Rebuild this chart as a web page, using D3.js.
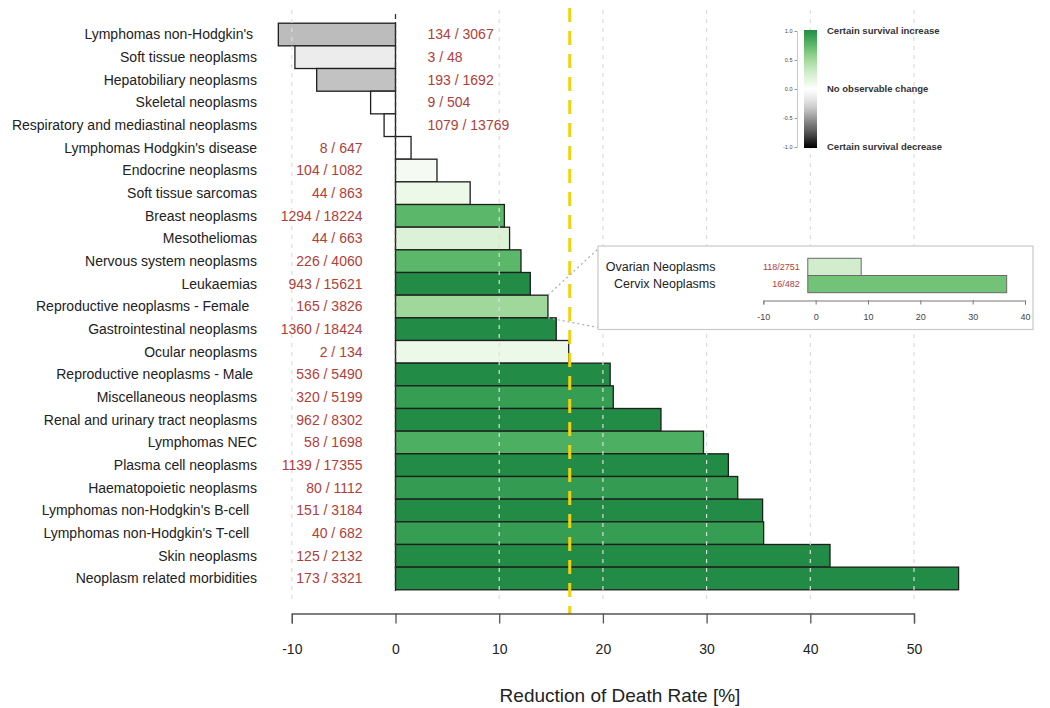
<!DOCTYPE html>
<html>
<head>
<meta charset="utf-8">
<script src="https://cdn.jsdelivr.net/npm/d3@7"></script>
<style>
  html, body { margin: 0; padding: 0; background: #fff; }
  svg { display: block; font-family: "Liberation Sans", Arial, Helvetica, sans-serif; }
</style>
</head>
<body>
<svg id="chart" width="1050" height="708"></svg>
<script>
// ---------- data ----------
const categories = [
  "Lymphomas non-Hodgkin's ",
  "Soft tissue neoplasms",
  "Hepatobiliary neoplasms",
  "Skeletal neoplasms",
  "Respiratory and mediastinal neoplasms",
  "Lymphomas Hodgkin's disease",
  "Endocrine neoplasms",
  "Soft tissue sarcomas",
  "Breast neoplasms",
  "Mesotheliomas",
  "Nervous system neoplasms",
  "Leukaemias",
  "Reproductive neoplasms - Female  ",
  "Gastrointestinal neoplasms",
  "Ocular neoplasms",
  "Reproductive neoplasms - Male ",
  "Miscellaneous neoplasms",
  "Renal and urinary tract neoplasms",
  "Lymphomas NEC",
  "Plasma cell neoplasms",
  "Haematopoietic neoplasms",
  "Lymphomas non-Hodgkin's B-cell  ",
  "Lymphomas non-Hodgkin's T-cell  ",
  "Skin neoplasms",
  "Neoplasm related morbidities"
];
const reduction = [-11.3, -9.7, -7.6, -2.4, -1.1, 1.5, 4.0, 7.2, 10.5, 11.0, 12.1, 13.0, 14.7, 15.5, 16.7,
                   20.7, 21.0, 25.6, 29.7, 32.1, 33.0, 35.4, 35.5, 41.9, 54.3];
// certainty of change: -1 certain decrease, 0 no change, +1 certain increase
const certainty = [-0.37, -0.14, -0.35, 0, 0, 0, 0.02, 0.1, 0.75, 0.21, 0.75, 1, 0.5, 1, 0.1,
                   1, 0.9, 1, 0.8, 1, 0.91, 1, 0.9, 1, 1];
const counts = ["134 / 3067", "3 / 48", "193 / 1692", "9 / 504", "1079 / 13769", "8 / 647", "104 / 1082",
                "44 / 863", "1294 / 18224", "44 / 663", "226 / 4060", "943 / 15621", "165 / 3826",
                "1360 / 18424", "2 / 134", "536 / 5490", "320 / 5199", "962 / 8302", "58 / 1698",
                "1139 / 17355", "80 / 1112", "151 / 3184", "40 / 682", "125 / 2132", "173 / 3321"];
const xTicks = [-10, 0, 10, 20, 30, 40, 50];
const meanReduction = 16.8;
const zoomedCategory = "Reproductive neoplasms - Female  ";

const insetCategories = ["Ovarian Neoplasms", "Cervix Neoplasms"];
const insetReduction = [8.7, 36.5];
const insetCertainty = [0.27, 0.67];
const insetCounts = ["118/2751", "16/482"];
const insetTicks = [-10, 0, 10, 20, 30, 40];
const insetBase = -1.5;

const legendTicks = [1.0, 0.5, 0.0, -0.5, -1.0];
const legendLabels = ["Certain survival increase", "No observable change", "Certain survival decrease"];
const legendLabelValues = [1, 0, -1];

// ---------- scales ----------
const svg = d3.select("#chart");
const color = c => c <= 0 ? d3.interpolateGreys(-c) : d3.interpolateGreens(c * 0.75);
const fmt = d => String(d);

const x = d3.scaleLinear().domain([-10, 50]).range([291.8, 914]);
const y = d3.scaleBand().domain(categories).range([23.2, 589.8]).padding(0);
const rows = categories.map((c, i) => ({cat: c, v: reduction[i], c: certainty[i], n: counts[i]}));

// ---------- bars ----------
svg.append("g").selectAll("rect").data(rows).join("rect")
  .attr("x", d => x(Math.min(0, d.v)))
  .attr("y", d => y(d.cat))
  .attr("width", d => Math.abs(x(d.v) - x(0)))
  .attr("height", y.bandwidth())
  .attr("fill", d => color(d.c))
  .attr("stroke", "#1e1e1e")
  .attr("stroke-width", 1.3);

// ---------- grid lines (drawn over bars) ----------
svg.append("g").selectAll("line").data(xTicks.filter(t => t !== 0)).join("line")
  .attr("x1", d => x(d)).attr("x2", d => x(d))
  .attr("y1", 10).attr("y2", 600)
  .attr("stroke", "#dcdcdc").attr("stroke-width", 1.2)
  .attr("stroke-dasharray", "4,5");

// zero line
svg.append("line")
  .attr("x1", x(0)).attr("x2", x(0)).attr("y1", 14).attr("y2", 591)
  .attr("stroke", "#333").attr("stroke-width", 1.3).attr("stroke-dasharray", "5,3");

// mean line
svg.append("line")
  .attr("x1", x(meanReduction)).attr("x2", x(meanReduction)).attr("y1", 8).attr("y2", 614)
  .attr("stroke", "#f2d20c").attr("stroke-width", 3).attr("stroke-dasharray", "14,9");

// ---------- category labels ----------
svg.append("g").selectAll("text").data(rows).join("text")
  .attr("x", 257)
  .attr("y", d => y(d.cat) + y.bandwidth() / 2)
  .attr("dy", "0.35em")
  .attr("text-anchor", "end")
  .attr("xml:space", "preserve")
  .style("white-space", "pre")
  .attr("font-size", 14)
  .attr("fill", "#222")
  .text(d => d.cat);

// ---------- count labels ----------
svg.append("g").selectAll("text").data(rows).join("text")
  .attr("x", d => d.v < 0 ? x(0) + 32 : x(0) - 33)
  .attr("y", d => y(d.cat) + y.bandwidth() / 2)
  .attr("dy", "0.35em")
  .attr("text-anchor", d => d.v < 0 ? "start" : "end")
  .attr("font-size", 14)
  .attr("fill", "#b03e3a")
  .text(d => d.n);

// ---------- x axis ----------
const ax = svg.append("g").attr("transform", "translate(0,613.5)")
  .call(d3.axisBottom(x).tickValues(xTicks).tickSize(10).tickSizeOuter(10).tickPadding(21)
        .tickFormat(fmt));
ax.select(".domain").attr("stroke", "#555").attr("stroke-width", 1.3);
ax.selectAll(".tick line").attr("stroke", "#555").attr("stroke-width", 1.3);
ax.selectAll(".tick text").attr("font-size", 14).attr("fill", "#222")
  .attr("font-family", "'Liberation Sans', Arial, sans-serif");

svg.append("text")
  .attr("x", 620).attr("y", 702)
  .attr("text-anchor", "middle")
  .attr("font-size", 19)
  .attr("fill", "#222")
  .text("Reduction of Death Rate [%]");

// ---------- legend ----------
const ly = d3.scaleLinear().domain([1, -1]).range([31, 147]);
const defs = svg.append("defs");
const grad = defs.append("linearGradient").attr("id", "lg")
  .attr("x1", 0).attr("x2", 0).attr("y1", 0).attr("y2", 1);
d3.range(0, 1.0001, 0.05).forEach(t => {
  grad.append("stop").attr("offset", t).attr("stop-color", color(1 - 2 * t));
});
svg.append("rect")
  .attr("x", 804).attr("y", ly(1) - 1).attr("width", 13).attr("height", ly(-1) - ly(1) + 2)
  .attr("fill", "url(#lg)");
const lax = svg.append("g").attr("transform", "translate(797,0)")
  .call(d3.axisLeft(ly).tickValues(legendTicks).tickSize(2.5).tickPadding(2)
        .tickFormat(d => d.toFixed(1)));
lax.select(".domain").attr("stroke", "#bbb").attr("stroke-width", 0.8);
lax.selectAll(".tick line").attr("stroke", "#999");
lax.selectAll(".tick text").attr("font-size", 5.5).attr("fill", "#444")
  .attr("font-family", "'Liberation Sans', Arial, sans-serif");

svg.append("g").selectAll("text").data(legendLabels).join("text")
  .attr("x", 827)
  .attr("y", (d, i) => ly(legendLabelValues[i]))
  .attr("dy", "0.35em")
  .attr("font-size", 9.5)
  .attr("font-weight", "bold")
  .attr("fill", "#333")
  .text(d => d);

// ---------- inset ----------
const box = {x0: 598, y0: 246, x1: 1033, y1: 329.5};
const zi = categories.indexOf(zoomedCategory);
const zRight = x(reduction[zi]);
const zTop = y(zoomedCategory), zBottom = zTop + y.bandwidth();
svg.append("line").attr("x1", zRight).attr("y1", zTop).attr("x2", box.x0).attr("y2", box.y0 + 3)
  .attr("stroke", "#aaa").attr("stroke-width", 1.2).attr("stroke-dasharray", "2,3");
svg.append("line").attr("x1", zRight).attr("y1", zBottom).attr("x2", box.x0).attr("y2", box.y1 - 2)
  .attr("stroke", "#aaa").attr("stroke-width", 1.2).attr("stroke-dasharray", "2,3");

svg.append("rect")
  .attr("x", box.x0).attr("y", box.y0).attr("width", box.x1 - box.x0).attr("height", box.y1 - box.y0)
  .attr("fill", "#fff").attr("stroke", "#c9c9c9").attr("stroke-width", 1.2);

const ix = d3.scaleLinear().domain([-10, 40]).range([763.3, 1025]);
const iy = d3.scaleBand().domain(insetCategories).range([258.3, 292.7]).padding(0);
const irows = insetCategories.map((c, i) => ({cat: c, v: insetReduction[i], c: insetCertainty[i], n: insetCounts[i]}));

svg.append("g").selectAll("rect").data(irows).join("rect")
  .attr("x", ix(insetBase))
  .attr("y", d => iy(d.cat))
  .attr("width", d => ix(d.v) - ix(insetBase))
  .attr("height", iy.bandwidth())
  .attr("fill", d => color(d.c))
  .attr("stroke", "#6a6a6a").attr("stroke-width", 1);

svg.append("g").selectAll("text").data(irows).join("text")
  .attr("x", 715.5)
  .attr("y", d => iy(d.cat) + iy.bandwidth() / 2)
  .attr("dy", "0.35em")
  .attr("text-anchor", "end")
  .attr("font-size", 12.5)
  .attr("fill", "#222")
  .text(d => d.cat);

svg.append("g").selectAll("text").data(irows).join("text")
  .attr("x", ix(insetBase) - 8)
  .attr("y", d => iy(d.cat) + iy.bandwidth() / 2)
  .attr("dy", "0.35em")
  .attr("text-anchor", "end")
  .attr("font-size", 9)
  .attr("fill", "#b03e3a")
  .text(d => d.n);

const iax = svg.append("g").attr("transform", "translate(0,300.5)")
  .call(d3.axisBottom(ix).tickValues(insetTicks).tickSize(4).tickSizeOuter(4).tickPadding(9)
        .tickFormat(fmt));
iax.select(".domain").attr("stroke", "#777").attr("stroke-width", 1);
iax.selectAll(".tick line").attr("stroke", "#777");
iax.selectAll(".tick text").attr("font-size", 9).attr("fill", "#444")
  .attr("font-family", "'Liberation Sans', Arial, sans-serif");
</script>
</body>
</html>
